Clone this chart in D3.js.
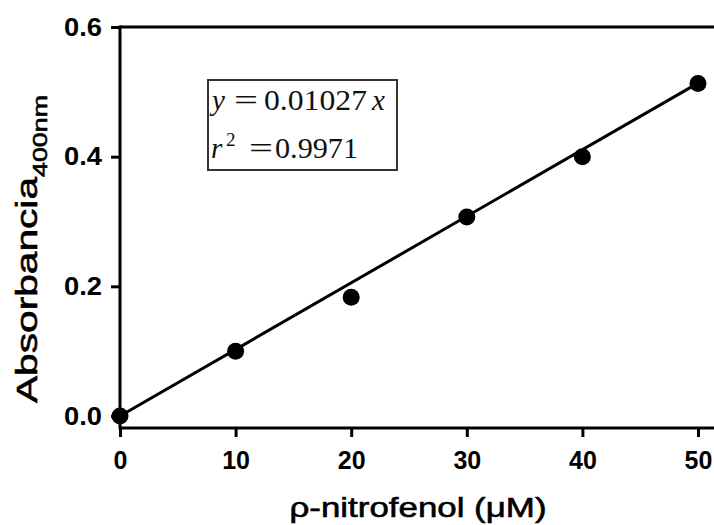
<!DOCTYPE html>
<html>
<head>
<meta charset="utf-8">
<script src="https://cdn.jsdelivr.net/npm/d3@7"></script>
<style>
  body { margin: 0; background: #fff; }
  svg { display: block; }
</style>
</head>
<body>
<svg width="714" height="525"></svg>
<script>
// standard curve data
const concentrations = [0, 10, 20, 30, 40, 50];
const absorbance = [0, 0.100, 0.183, 0.307, 0.400, 0.513];
const xTicks = [0, 10, 20, 30, 40, 50];
const yTicks = [0, 0.2, 0.4, 0.6];
const slope = 0.01027;
const r2 = 0.9971;

const sans = 'Liberation Sans, Arial, sans-serif';
const serif = 'Liberation Serif, Times New Roman, serif';

const svg = d3.select('svg');
svg.append('rect').attr('width', 714).attr('height', 525).attr('fill', '#fff');

const x = d3.scaleLinear().domain([0, 50]).range([120, 698]);
const y = d3.scaleLinear().domain([0, 0.6]).range([416, 27]);
const xAxisY = 428;

// y axis
const gy = svg.append('g')
  .attr('transform', 'translate(120,0)')
  .call(d3.axisLeft(y).tickValues(yTicks).tickFormat(d3.format('.1f')).tickSize(9).tickPadding(9));
gy.select('.domain').remove();
gy.selectAll('line').attr('stroke', '#000').attr('stroke-width', 3);
gy.selectAll('text')
  .attr('font-family', sans)
  .attr('font-weight', 'bold')
  .attr('font-size', 25)
  .attr('textLength', 38)
  .attr('lengthAdjust', 'spacingAndGlyphs')
  .attr('fill', '#000');

// x axis
const gx = svg.append('g')
  .attr('transform', `translate(0,${xAxisY})`)
  .call(d3.axisBottom(x).tickValues(xTicks).tickSize(9).tickPadding(14));
gx.select('.domain').remove();
gx.selectAll('line').attr('stroke', '#000').attr('stroke-width', 3);
gx.selectAll('text')
  .attr('font-family', sans)
  .attr('font-weight', 'bold')
  .attr('font-size', 25)
  .attr('fill', '#000');

// axis lines + top frame
svg.append('line').attr('x1', 120).attr('x2', 120).attr('y1', y(0.6) - 1.5).attr('y2', xAxisY + 1.5)
  .attr('stroke', '#000').attr('stroke-width', 3);
svg.append('line').attr('x1', 120).attr('x2', 714).attr('y1', xAxisY).attr('y2', xAxisY)
  .attr('stroke', '#000').attr('stroke-width', 3);
svg.append('line').attr('x1', 120).attr('x2', 714).attr('y1', y(0.6)).attr('y2', y(0.6))
  .attr('stroke', '#000').attr('stroke-width', 3);

// fit line
svg.append('line')
  .attr('x1', x(0)).attr('y1', y(0))
  .attr('x2', x(50)).attr('y2', y(slope * 50))
  .attr('stroke', '#000').attr('stroke-width', 3);

// points
svg.selectAll('circle')
  .data(concentrations.map((c, i) => ({ c, a: absorbance[i] })))
  .enter()
  .append('circle')
  .attr('cx', (d) => x(d.c))
  .attr('cy', (d) => y(d.a))
  .attr('r', 8.5)
  .attr('fill', '#000');

// axis titles
svg.append('text')
  .attr('x', 418).attr('y', 517)
  .attr('text-anchor', 'middle')
  .attr('font-family', sans)
  .attr('font-size', 28)
  .attr('stroke', '#000').attr('stroke-width', 0.6)
  .attr('textLength', 257)
  .attr('lengthAdjust', 'spacingAndGlyphs')
  .text('ρ-nitrofenol (μM)');

const yt = svg.append('text')
  .attr('transform', 'translate(37,403) rotate(-90)')
  .attr('font-family', sans)
  .attr('font-size', 30)
  .attr('stroke', '#000').attr('stroke-width', 0.6);
yt.append('tspan').attr('textLength', 226).attr('lengthAdjust', 'spacingAndGlyphs').text('Absorbancia');
yt.append('tspan').attr('dy', 10).attr('font-size', 21).attr('textLength', 82)
  .attr('lengthAdjust', 'spacingAndGlyphs').text('400nm');

// equation box
svg.append('rect')
  .attr('x', 208).attr('y', 80).attr('width', 189).attr('height', 90)
  .attr('fill', '#fff').attr('stroke', '#333').attr('stroke-width', 2);

const l1 = svg.append('text').attr('y', 110).attr('font-family', serif).attr('font-size', 29).attr('fill', '#111');
l1.append('tspan').attr('x', 212).attr('font-style', 'italic').text('y');
l1.append('tspan').attr('x', 234).attr('textLength', 24).attr('lengthAdjust', 'spacingAndGlyphs').text('=');
l1.append('tspan').attr('x', 264).attr('textLength', 103).attr('lengthAdjust', 'spacingAndGlyphs')
  .text(d3.format('.5f')(slope));
l1.append('tspan').attr('x', 372).attr('font-style', 'italic').text('x');

const l2 = svg.append('text').attr('y', 158).attr('font-family', serif).attr('font-size', 29).attr('fill', '#111');
l2.append('tspan').attr('x', 211).attr('font-style', 'italic').text('r');
l2.append('tspan').attr('x', 226).attr('dy', -12).attr('font-size', 19).text('2');
l2.append('tspan').attr('x', 249).attr('dy', 12).attr('textLength', 24).attr('lengthAdjust', 'spacingAndGlyphs').text('=');
l2.append('tspan').attr('x', 275).attr('textLength', 83).attr('lengthAdjust', 'spacingAndGlyphs')
  .text(d3.format('.4f')(r2));
</script>
</body>
</html>
